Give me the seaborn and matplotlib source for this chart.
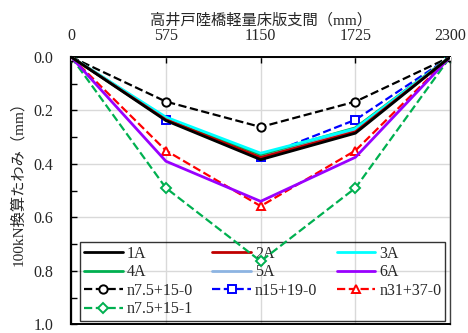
import matplotlib
matplotlib.use("Agg")
import matplotlib.pyplot as plt
import seaborn as sns
import pandas as pd
from matplotlib.ticker import MultipleLocator

positions = [0, 575, 1150, 1725, 2300]
s_1A = [0, 0.238, 0.384, 0.285, 0]
s_2A = [0, 0.235, 0.376, 0.280, 0]
s_3A = [0, 0.225, 0.360, 0.268, 0]
s_4A = [0, 0.230, 0.365, 0.265, 0]
s_5A = [0, 0.232, 0.370, 0.272, 0]
s_6A = [0, 0.390, 0.540, 0.375, 0]
s_n7_0 = [0, 0.167, 0.262, 0.167, 0]
s_n15_0 = [0, 0.235, 0.374, 0.235, 0]
s_n31_0 = [0, 0.350, 0.558, 0.350, 0]
s_n7_1 = [0, 0.490, 0.764, 0.490, 0]

names = ["1A", "2A", "3A", "4A", "5A", "6A",
         "n7.5+15-0", "n15+19-0", "n31+37-0", "n7.5+15-1"]
values = [s_1A, s_2A, s_3A, s_4A, s_5A, s_6A, s_n7_0, s_n15_0, s_n31_0, s_n7_1]
colors = ["#000000", "#c00000", "#00ffff", "#00b050", "#8db4e2", "#9900ff",
          "#000000", "#0000ff", "#ff0000", "#00b050"]
markers = [None] * 6 + ["o", "s", "^", "D"]

sns.set_theme(style="white")
plt.rcParams['font.family'] = ['Liberation Serif', 'Noto Sans CJK JP']

df = pd.DataFrame({"x": positions * len(names),
                   "y": sum(values, []),
                   "s": [n for n in names for _ in positions]})

fig = plt.figure(figsize=(4.68, 3.33), dpi=100)
ax = fig.add_axes([0.152, 0.026, 0.810, 0.803])

for i, n in enumerate(names):
    sub = df[df.s == n]
    dashed = i >= 6
    sns.lineplot(data=sub, x="x", y="y", ax=ax, color=colors[i],
                 linestyle="--" if dashed else "-",
                 linewidth=1.6 if dashed else 2.0,
                 marker=markers[i] if markers[i] else None,
                 markersize=6 if markers[i] != "D" else 5.5,
                 markerfacecolor="white", markeredgecolor=colors[i],
                 markeredgewidth=1.4, label=n, zorder=3 + (10 - i) * 0.01)

ax.set_xlim(0, 2300)
ax.set_ylim(1.0, 0.0)
ax.set_xticks(positions)
ax.xaxis.tick_top()
ax.xaxis.set_label_position("top")
ax.yaxis.set_major_locator(MultipleLocator(0.2))
ax.yaxis.set_minor_locator(MultipleLocator(0.1))
ax.yaxis.set_major_formatter(matplotlib.ticker.FormatStrFormatter('%.1f'))
ax.tick_params(axis="x", direction="in", length=4, width=1, labelsize=11.5,
               top=True, bottom=False, pad=9, color="black")
ax.tick_params(axis="y", which="both", direction="in", length=4, width=1,
               labelsize=11.5, left=True, pad=13, color="black")
ax.grid(True, color="#d9d9d9", linewidth=1)
ax.set_xlabel("高井戸陸橋軽量床版支間（mm）", fontsize=11, labelpad=3)
ax.set_ylabel("100kN換算たわみ（mm）", fontsize=11)
ax.yaxis.set_label_coords(-0.121, 0.54)

for side, lw, c in [("top", 1.4, "black"), ("left", 1.6, "black"),
                    ("bottom", 1.4, "black"), ("right", 1.0, "#404040")]:
    ax.spines[side].set_visible(True)
    ax.spines[side].set_linewidth(lw)
    ax.spines[side].set_color(c)

handles, labels = ax.get_legend_handles_labels()
order = [0, 3, 6, 9, 1, 4, 7, 2, 5, 8]
leg = ax.legend([handles[k] for k in order], [labels[k] for k in order],
                loc="lower left", ncol=3, mode="expand", fontsize=11.5,
                frameon=True, fancybox=False, edgecolor="black",
                facecolor="none", handlelength=2.4, handletextpad=0.25,
                columnspacing=0.4, labelspacing=0.16, borderpad=0.25,
                borderaxespad=0.0,
                bbox_to_anchor=(0.024, 0.011, 0.963, 0.291))
leg.get_frame().set_linewidth(1.0)
leg.set_zorder(2.5)

fig.savefig("out.png", dpi=100)
